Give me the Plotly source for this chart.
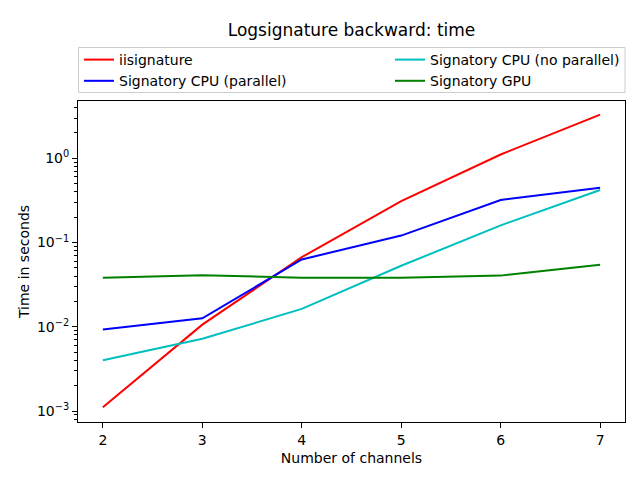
import plotly.graph_objects as go

channels = [2, 3, 4, 5, 6, 7]
iisignature = [0.00111, 0.0106, 0.067, 0.31, 1.11, 3.3]
sig_cpu_parallel = [0.0093, 0.0126, 0.063, 0.121, 0.32, 0.446]
sig_cpu_noparallel = [0.0040, 0.0072, 0.0163, 0.053, 0.16, 0.42]
sig_gpu = [0.0382, 0.041, 0.0382, 0.0382, 0.0405, 0.0545]

series = [
    ("iisignature", iisignature, "#ff0000", "legend"),
    ("Signatory CPU (parallel)", sig_cpu_parallel, "#0000ff", "legend"),
    ("Signatory CPU (no parallel)", sig_cpu_noparallel, "#00bfbf", "legend2"),
    ("Signatory GPU", sig_gpu, "#008000", "legend2"),
]

fig = go.Figure()
for name, vals, color, leg in series:
    fig.add_trace(go.Scatter(x=channels, y=vals, mode="lines", name=name,
                             line=dict(color=color, width=2), legend=leg))

tickvals = [1e-3, 1e-2, 1e-1, 1]
ticktext = ["10<sup>−3</sup>", "10<sup>−2</sup>", "10<sup>−1</sup>", "10<sup>0</sup>"]
minor_vals = [m * 10.0 ** e for e in range(-4, 1) for m in range(2, 10)]

axis_common = dict(showline=True, linecolor="black", linewidth=1, mirror=True,
                   ticks="outside", ticklen=5, tickcolor="black", showgrid=False,
                   zeroline=False, tickfont=dict(size=14, color="black"))

L, R, T, B = 78, 15, 101, 58
PW, PH = 640 - L - R, 480 - T - B

def px_x(p):
    return (p - L) / PW

def px_y(p):
    return (480 - B - p) / PH

leg_common = dict(orientation="v", yanchor="top", xanchor="left", bgcolor="rgba(0,0,0,0)",
                  borderwidth=0, font=dict(size=14), tracegroupgap=0, itemwidth=30)

fig.update_layout(
    width=640, height=480,
    paper_bgcolor="white", plot_bgcolor="white",
    font=dict(family="DejaVu Sans", size=14, color="black"),
    margin=dict(l=L, r=R, t=T, b=B, autoexpand=False),
    title=dict(text="Logsignature backward: time", x=(L + 640 - R) / 2 / 640, xanchor="center",
               y=1 - 30 / 480, yanchor="middle", font=dict(size=17, color="black")),
    xaxis=dict(range=[1.75, 7.25], tickvals=channels,
               title=dict(text="Number of channels", font=dict(size=14), standoff=6),
               **axis_common),
    yaxis=dict(type="log", range=[-3.13, 0.68], tickvals=tickvals, ticktext=ticktext,
               title=dict(text="Time in seconds", font=dict(size=14), standoff=4),
               minor=dict(ticks="outside", ticklen=3, tickcolor="black", tickvals=minor_vals),
               **axis_common),
    legend=dict(x=px_x(79), y=px_y(44), **leg_common),
    legend2=dict(x=px_x(390), y=px_y(44), **leg_common),
    shapes=[dict(type="rect", xref="paper", yref="paper",
                 x0=px_x(78.5), x1=px_x(625), y0=px_y(92.5), y1=px_y(47.5),
                 line=dict(color="#cccccc", width=1), fillcolor="rgba(0,0,0,0)", layer="below")],
    showlegend=True,
)

fig.write_html("out.html", config={"displayModeBar": False},
               post_script="document.body.style.margin='0';")
